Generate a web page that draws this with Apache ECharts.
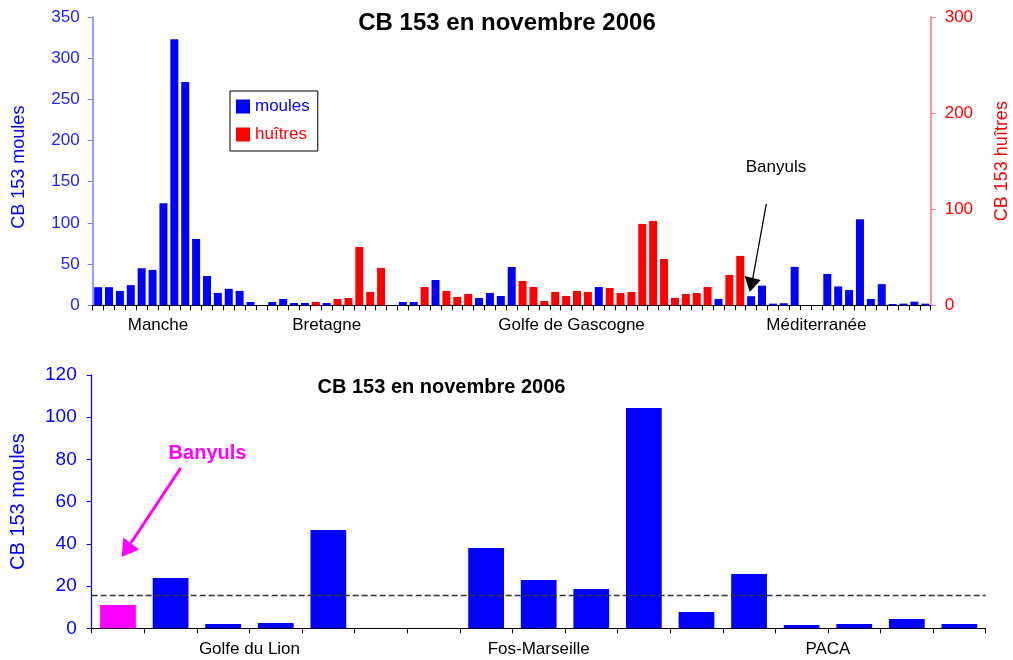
<!DOCTYPE html>
<html><head><meta charset="utf-8">
<script src="https://cdn.jsdelivr.net/npm/echarts@6/dist/echarts.min.js"></script>
<style>html,body{margin:0;padding:0;background:#fff}#c{width:1013px;height:660px}</style>
</head><body><div id="c"></div>
<script>
// ---------- DATA ----------
const chartTitle = 'CB 153 en novembre 2006';
// Top chart: all French coastal sites (moules on left axis, huîtres on right axis)
const topMoules = [
  22, 22, 17.5, 24.5, 45, 43, 124, 323, 271, 80.5,
  35.5, 15, 20, 17.5, 4, null, 4, 7.7, 2.8, 2.8,
  null, 2.8, null, null, null, null, null, null, 4, 4,
  null, 30.7, null, null, null, 8.9, 15, 11.3, 46.5, null,
  null, null, null, null, null, null, 22.2, null, null, null,
  null, null, null, null, null, null, null, 7.7, null, null,
  11, 23.8, 2, 2.5, 46.6, null, null, 38, 22.9, 18.6,
  104.4, 7.7, 25.7, 1.6, 2, 4.4, 2
];
const topHuitres = [
  null, null, null, null, null, null, null, null, null, null,
  null, null, null, null, null, null, null, null, null, null,
  3.5, null, 6.6, 7.6, 60.7, 13.9, 38.9, null, null, null,
  19, null, 14.9, 8.7, 11.8, null, null, null, null, 25.3,
  19, 4.5, 13.9, 9.7, 14.9, 13.9, null, 18, 12.8, 13.9,
  84.7, 87.8, 48.2, 7.6, 11.8, 12.8, 19, null, 31.6, 51.4,
  null, null, null, null, null, null, null, null, null, null,
  null, null, null, null, null, null, null
];
const topSites = topMoules.map((_, i) => 'site ' + (i + 1));
const topGroupNames = ['Manche', 'Bretagne', 'Golfe de Gascogne', 'Méditerranée'];
const topGroupStart = [0, 12, 31, 57];
const topGroupEnd = [12, 31, 57, 76];
const topLeftTicks = [0, 350, 50];   // min, max, interval
const topRightTicks = [0, 300, 100];

// Bottom chart: Mediterranean mussel sites
const medMoules = [11, 23.8, 2, 2.5, 46.6, null, null, 38, 22.9, 18.6, 104.4, 7.7, 25.7, 1.6, 2, 4.4, 2];
const medSites = medMoules.map((_, i) => 'med ' + (i + 1));
const medHighlight = 0; // Banyuls
const medGroupNames = ['Golfe du Lion', 'Fos-Marseille', 'PACA'];
const medGroupStart = [0, 6, 11];
const medGroupEnd = [6, 11, 17];
const medRefLevel = 15.8;
const medTicks = [0, 120, 20];

// ---------- CHART ----------
const FONT = '"Liberation Sans", Arial, sans-serif';
const centers = (s, e) => s.map((v, i) => (v + e[i]) / 2);
const topCenters = centers(topGroupStart, topGroupEnd);
const medCenters = centers(medGroupStart, medGroupEnd);
const nameAt = (cs, names) => v => {
  for (let i = 0; i < cs.length; i++) if (Math.abs(cs[i] - v) < 1e-6) return names[i];
  return '';
};

const chart = echarts.init(document.getElementById('c'), null, {renderer: 'canvas'});
const option = {
  animation: false,
  backgroundColor: '#fff',
  textStyle: {fontFamily: FONT},
  grid: [
    {left: 92.7, right: 82.3, top: 17, bottom: 354.7, outerBoundsMode: 'none'},
    {left: 91.7, right: 27.3, top: 375, bottom: 31.7, outerBoundsMode: 'none'}
  ],
  legend: {
    left: 230, top: 91, orient: 'vertical',
    padding: [7, 8, 8, 6], itemGap: 11, itemWidth: 14, itemHeight: 14,
    borderColor: '#000', borderWidth: 1,
    icon: 'rect',
    textStyle: {fontSize: 17, fontFamily: FONT},
    data: [
      {name: 'moules', textStyle: {color: '#0000ff'}},
      {name: 'huîtres', textStyle: {color: '#ff0000'}}
    ]
  },
  xAxis: [
    {
      type: 'category', gridIndex: 0, data: topSites, position: 'bottom',
      axisLine: {lineStyle: {color: '#000', width: 1}},
      axisTick: {show: true, interval: 0, length: 5, lineStyle: {color: '#000'}},
      axisLabel: {show: false}, splitLine: {show: false}
    },
    {
      type: 'value', gridIndex: 0, min: 0, max: topSites.length, position: 'bottom',
      axisLine: {show: false}, axisTick: {show: false}, splitLine: {show: false},
      axisLabel: {customValues: topCenters, formatter: nameAt(topCenters, topGroupNames),
        color: '#000', fontSize: 17, margin: 12, fontFamily: FONT}
    },
    {
      type: 'category', gridIndex: 1, data: medSites, position: 'bottom',
      axisLine: {lineStyle: {color: '#000', width: 1}},
      axisTick: {show: true, interval: 0, length: 5, lineStyle: {color: '#000'}},
      axisLabel: {show: false}, splitLine: {show: false}
    },
    {
      type: 'value', gridIndex: 1, min: 0, max: medSites.length, position: 'bottom',
      axisLine: {show: false}, axisTick: {show: false}, splitLine: {show: false},
      axisLabel: {customValues: medCenters, formatter: nameAt(medCenters, medGroupNames),
        color: '#000', fontSize: 17, margin: 13, fontFamily: FONT}
    }
  ],
  yAxis: [
    {
      type: 'value', gridIndex: 0, position: 'left',
      min: topLeftTicks[0], max: topLeftTicks[1], interval: topLeftTicks[2],
      name: 'CB 153 moules', nameLocation: 'middle', nameRotate: 90, nameGap: 65,
      nameTextStyle: {color: '#0000ff', fontSize: 18, fontFamily: FONT, padding: [0, 12, 0, 0]},
      axisLine: {show: true, lineStyle: {color: '#7777ff', width: 1.5}},
      axisTick: {show: true, length: 5, lineStyle: {color: '#7777ff'}},
      axisLabel: {color: '#2222ff', fontSize: 17, margin: 13, fontFamily: FONT},
      splitLine: {show: false}
    },
    {
      type: 'value', gridIndex: 0, position: 'right',
      min: topRightTicks[0], max: topRightTicks[1], interval: topRightTicks[2],
      name: 'CB 153 huîtres', nameLocation: 'middle', nameRotate: 90, nameGap: 62,
      nameTextStyle: {color: '#ff0000', fontSize: 18, fontFamily: FONT},
      axisLine: {show: true, lineStyle: {color: '#ff7777', width: 1.5}},
      axisTick: {show: true, length: 5, lineStyle: {color: '#ff7777'}},
      axisLabel: {color: '#ff0000', fontSize: 17, margin: 14, fontFamily: FONT},
      splitLine: {show: false}
    },
    {
      type: 'value', gridIndex: 1, position: 'left',
      min: medTicks[0], max: medTicks[1], interval: medTicks[2],
      name: 'CB 153 moules', nameLocation: 'middle', nameRotate: 90, nameGap: 63,
      nameTextStyle: {color: '#0000ff', fontSize: 20, fontFamily: FONT},
      axisLine: {show: true, lineStyle: {color: '#0000ff', width: 1.2}},
      axisTick: {show: true, length: 5, lineStyle: {color: '#0000ff'}},
      axisLabel: {color: '#0000ff', fontSize: 19, margin: 15, fontFamily: FONT},
      splitLine: {show: false}
    }
  ],
  series: [
    {
      name: 'moules', type: 'bar', xAxisIndex: 0, yAxisIndex: 0,
      data: topMoules, barWidth: 8, barGap: '-100%',
      itemStyle: {color: '#0000ff'}
    },
    {
      name: 'huîtres', type: 'bar', xAxisIndex: 0, yAxisIndex: 1,
      data: topHuitres, barWidth: 8, barGap: '-100%',
      itemStyle: {color: '#ff0000'}
    },
    {
      name: 'méditerranée', type: 'bar', xAxisIndex: 2, yAxisIndex: 2,
      data: medMoules.map((v, i) => i === medHighlight ? {value: v, itemStyle: {color: '#ff00ff'}} : v),
      barWidth: '68%',
      itemStyle: {color: '#0000ff'},
      markLine: {
        silent: true, symbol: ['none', 'none'], label: {show: false},
        lineStyle: {color: '#333', type: [6, 3], width: 1.3},
        data: [{yAxis: medRefLevel}]
      }
    }
  ],
  graphic: [
    {type: 'text', style: {text: chartTitle, x: 507, y: 23, align: 'center', verticalAlign: 'middle',
      textAlign: 'center', textVerticalAlign: 'middle', font: 'bold 24px ' + FONT, fill: '#000'}},
    {type: 'text', style: {text: chartTitle, x: 441.5, y: 387, align: 'center', verticalAlign: 'middle',
      textAlign: 'center', textVerticalAlign: 'middle', font: 'bold 20px ' + FONT, fill: '#000'}},
    // top Banyuls annotation
    {type: 'text', style: {text: 'Banyuls', x: 776, y: 167, align: 'center', verticalAlign: 'middle',
      textAlign: 'center', textVerticalAlign: 'middle', font: '17px ' + FONT, fill: '#000'}},
    {type: 'line', shape: {x1: 766.3, y1: 204, x2: 752.5, y2: 280}, style: {stroke: '#000', lineWidth: 1.3}},
    {type: 'polygon', shape: {points: [[744.7, 276], [760.7, 280], [749.7, 292]]}, style: {fill: '#000'}},
    // bottom Banyuls annotation
    {type: 'text', style: {text: 'Banyuls', x: 207.5, y: 453, align: 'center', verticalAlign: 'middle',
      textAlign: 'center', textVerticalAlign: 'middle', font: 'bold 20px ' + FONT, fill: '#ff00ff'}},
    {type: 'line', shape: {x1: 180.7, y1: 468, x2: 131, y2: 543}, style: {stroke: '#ff00ff', lineWidth: 3}},
    {type: 'polygon', shape: {points: [[123.3, 537.5], [139, 549.5], [121.7, 557]]}, style: {fill: '#ff00ff'}}
  ]
};
chart.setOption(option);
</script>
</body></html>
